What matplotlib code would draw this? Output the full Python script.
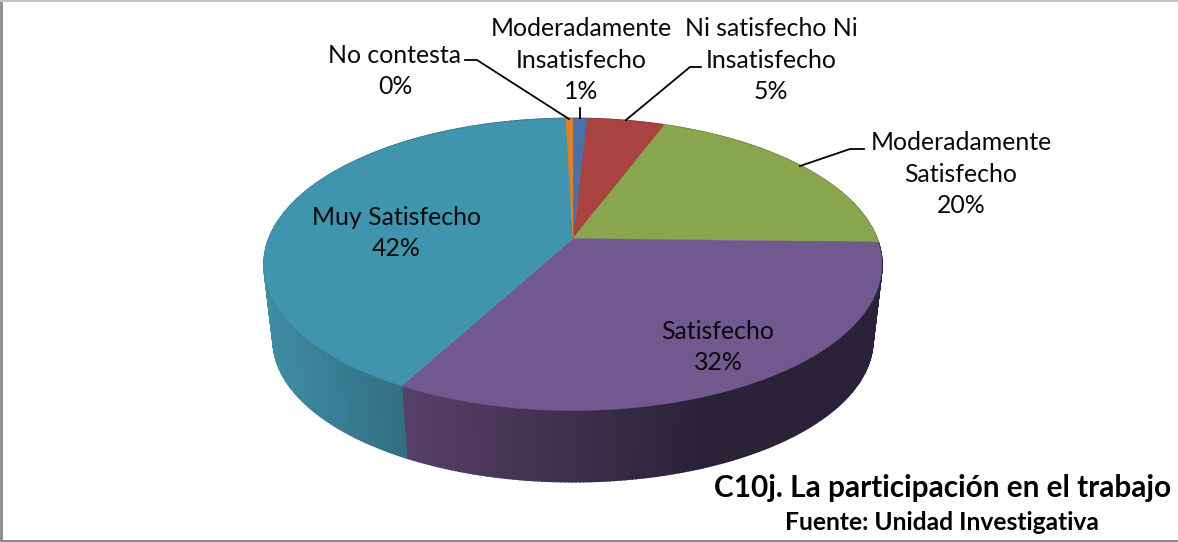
import numpy as np
import matplotlib
matplotlib.use("Agg")
import matplotlib.pyplot as plt
from matplotlib.colors import LinearSegmentedColormap

# clockwise from 12 o'clock
names = ["Moderadamente\nInsatisfecho", "Ni satisfecho Ni\nInsatisfecho", "Moderadamente\nSatisfecho",
         "Satisfecho", "Muy Satisfecho", "No contesta"]
values = [0.9, 4.8, 19.7, 32.5, 41.65, 0.45]
top_colors = ["#4a70a8", "#a84342", "#89a54e", "#71588f", "#4094ae", "#d9812f"]
wall_left = ["#3a5a88", "#85343a", "#6d843e", "#574069", "#3f8ca5", "#b06a25"]
wall_right = ["#3a5a88", "#85343a", "#6d843e", "#2a2238", "#326f82", "#b06a25"]
title = "C10j. La participación en el trabajo"
source = "Fuente: Unidad Investigativa"

plt.rcParams["font.family"] = ["Lato", "DejaVu Sans"]

cx = 573
tilt = 0.178


def rim(fracs, half_w, half_h, y0):
    # perspective view of a circle, frac 0 is the back of the pie
    a = 2 * np.pi * np.asarray(fracs)
    w = 1 + tilt * np.cos(a)
    return cx + half_w * np.sin(a) / w, y0 - half_h * np.cos(a) / w


fig = plt.figure(figsize=(11.78, 5.42), dpi=100)
ax = fig.add_axes([0, 0, 1, 1])
ax.set_xlim(0, 1178)
ax.set_ylim(542, 0)
ax.axis("off")

edges = np.cumsum([0] + values) / sum(values)

# side wall first, the top covers whatever is behind
for i in range(len(values)):
    cmap = LinearSegmentedColormap.from_list("w", [wall_left[i], wall_right[i]])
    steps = np.linspace(edges[i], edges[i + 1], max(3, int(values[i] * 6)))
    xt, yt = rim(steps, 304, 141.4, 238.5)
    xb, yb = rim(steps, 295, 137, 315)
    for j in range(len(steps) - 1):
        if i == 3:
            t = np.clip((407 - xb[j]) / (407 - 700), 0, 1)
        elif i == 4:
            t = np.clip((xb[j] - 273) / (407 - 273), 0, 1)
        else:
            t = 0
        # a wider edge hides the seams between the strips
        ax.fill([xt[j], xt[j + 1], xb[j + 1], xb[j]], [yt[j], yt[j + 1], yb[j + 1], yb[j]],
                color=cmap(t), lw=1.2, zorder=2)

for i in range(len(values)):
    steps = np.linspace(edges[i], edges[i + 1], max(3, int(values[i] * 6)))
    x, y = rim(steps, 304, 141.4, 238.5)
    ax.fill(np.r_[cx, x], np.r_[238.5, y], color=top_colors[i], lw=0.3, zorder=3)

# leader lines
ax.plot([465, 477, 569], [60, 60, 119], color="black", lw=1.3, zorder=4)
ax.plot([580, 580], [108, 118], color="black", lw=1.3, zorder=4)
ax.plot([701, 690, 626], [67, 67, 120], color="black", lw=1.3, zorder=4)
ax.plot([864, 850, 800], [149, 149, 166], color="black", lw=1.3, zorder=4)

# labels
label_pos = [(581, 60), (771, 60), (961, 174), (718, 347), (396, 233), (395, 71)]
for i in range(len(values)):
    pct = "%d%%" % round(values[i])
    ax.text(label_pos[i][0], label_pos[i][1], names[i] + "\n" + pct, ha="center", va="center",
            fontsize=17.9, color="#0a0a0a", linespacing=1.45, zorder=5)

ax.text(1171, 488, title, ha="right", va="center", fontsize=21.4, fontweight="bold", color="black", zorder=5)
ax.text(1099, 522, source, ha="right", va="center", fontsize=17.7, fontweight="bold", color="black", zorder=5)

# chart frame
ax.plot([1, 1], [0, 542], color="#8a8a8a", lw=2, zorder=6)
ax.plot([0, 1178], [0.5, 0.5], color="#c4c4c4", lw=1.5, zorder=6)
ax.plot([0, 1178], [541, 541], color="#8a8a8a", lw=1.5, zorder=6)

fig.savefig("out.png", dpi=100)
